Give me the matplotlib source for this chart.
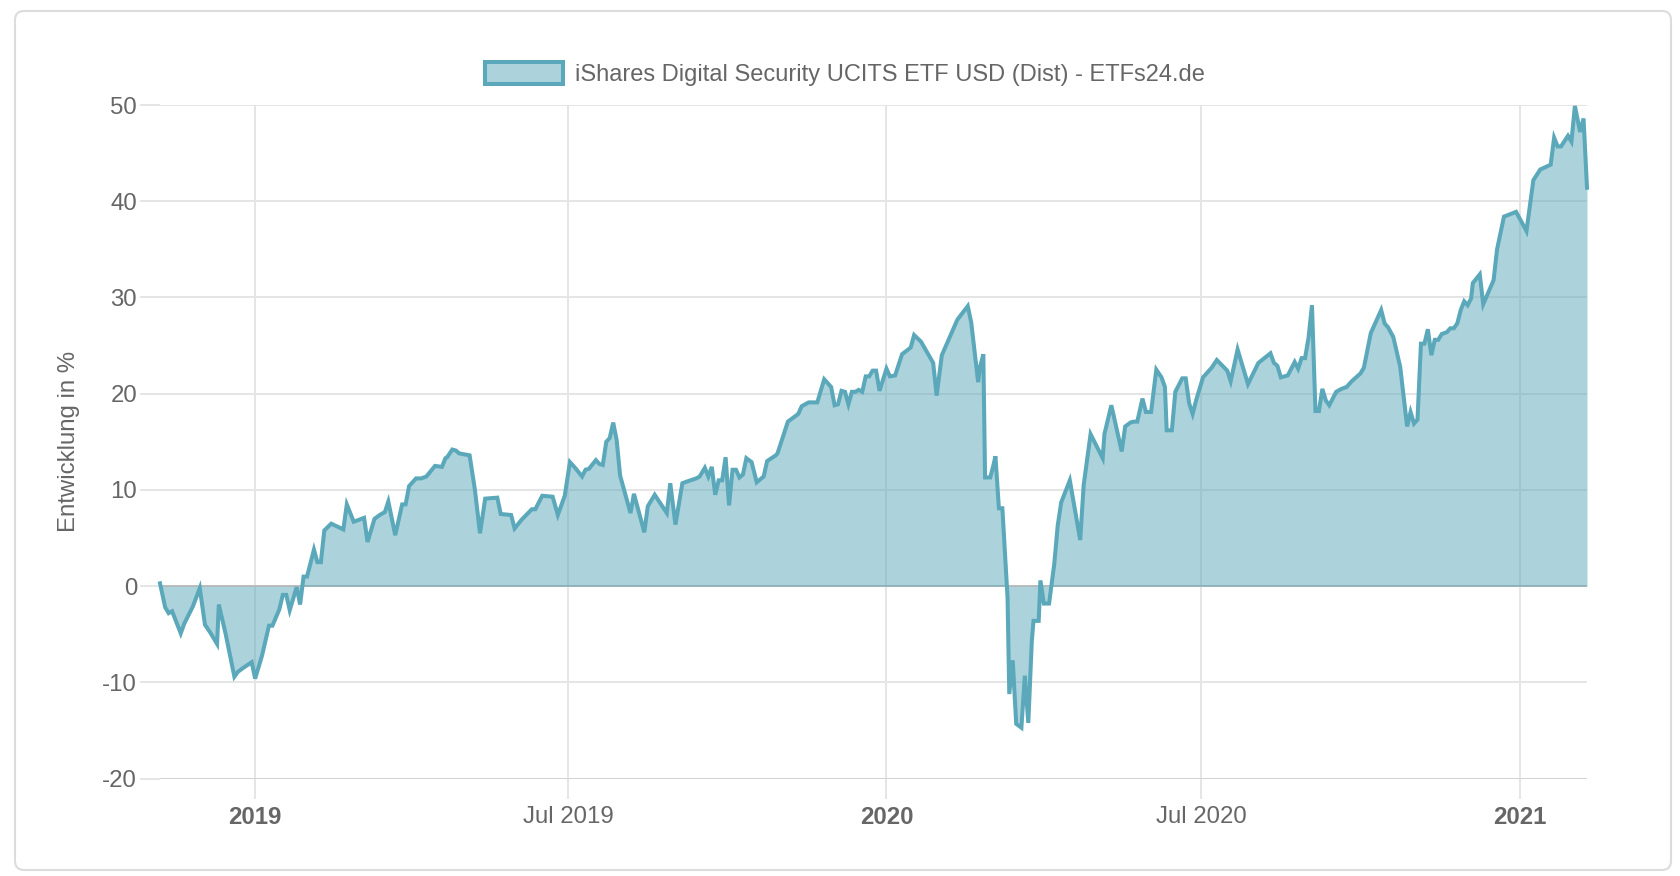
import matplotlib
matplotlib.use("Agg")
import matplotlib.pyplot as plt
from matplotlib.patches import FancyBboxPatch, Rectangle
from matplotlib.transforms import IdentityTransform
import pandas as pd

# performance of the ETF in %
dates = [
    "2018-11-07", "2018-11-10", "2018-11-12", "2018-11-14", "2018-11-19", "2018-11-21",
    "2018-11-26", "2018-11-30", "2018-12-03", "2018-12-06", "2018-12-10", "2018-12-11",
    "2018-12-15", "2018-12-20", "2018-12-22", "2018-12-25", "2018-12-30", "2019-01-01",
    "2019-01-05", "2019-01-09", "2019-01-11", "2019-01-15", "2019-01-17", "2019-01-19",
    "2019-01-21", "2019-01-25", "2019-01-27", "2019-01-29", "2019-01-31", "2019-02-04",
    "2019-02-06", "2019-02-08", "2019-02-10", "2019-02-14", "2019-02-21", "2019-02-23",
    "2019-02-27", "2019-03-05", "2019-03-07", "2019-03-11", "2019-03-14", "2019-03-17",
    "2019-03-19", "2019-03-23", "2019-03-27", "2019-03-29", "2019-03-31", "2019-04-04",
    "2019-04-07", "2019-04-10", "2019-04-15", "2019-04-19", "2019-04-21", "2019-04-22",
    "2019-04-25", "2019-04-27", "2019-04-29", "2019-05-02", "2019-05-05", "2019-05-08",
    "2019-05-11", "2019-05-14", "2019-05-21", "2019-05-23", "2019-05-29", "2019-05-31",
    "2019-06-04", "2019-06-10", "2019-06-12", "2019-06-16", "2019-06-22", "2019-06-25",
    "2019-06-29", "2019-07-02", "2019-07-05", "2019-07-09", "2019-07-11", "2019-07-13",
    "2019-07-17", "2019-07-19", "2019-07-21", "2019-07-23", "2019-07-25", "2019-07-27",
    "2019-07-29", "2019-07-31", "2019-08-06", "2019-08-08", "2019-08-14", "2019-08-16",
    "2019-08-20", "2019-08-27", "2019-08-29", "2019-09-01", "2019-09-05", "2019-09-08",
    "2019-09-13", "2019-09-15", "2019-09-18", "2019-09-20", "2019-09-22", "2019-09-24",
    "2019-09-26", "2019-09-28", "2019-09-30", "2019-10-02", "2019-10-04", "2019-10-06",
    "2019-10-08", "2019-10-10", "2019-10-12", "2019-10-15", "2019-10-18", "2019-10-22",
    "2019-10-24", "2019-10-29", "2019-10-30", "2019-11-05", "2019-11-11", "2019-11-13",
    "2019-11-17", "2019-11-22", "2019-11-26", "2019-11-30", "2019-12-02", "2019-12-04",
    "2019-12-06", "2019-12-08", "2019-12-10", "2019-12-12", "2019-12-14", "2019-12-16",
    "2019-12-18", "2019-12-20", "2019-12-22", "2019-12-24", "2019-12-26", "2019-12-28",
    "2020-01-01", "2020-01-03", "2020-01-06", "2020-01-10", "2020-01-15", "2020-01-17",
    "2020-01-21", "2020-01-28", "2020-01-30", "2020-02-02", "2020-02-11", "2020-02-17",
    "2020-02-19", "2020-02-23", "2020-02-24", "2020-02-26", "2020-02-27", "2020-03-01",
    "2020-03-03", "2020-03-04", "2020-03-06", "2020-03-08", "2020-03-11", "2020-03-12",
    "2020-03-14", "2020-03-16", "2020-03-19", "2020-03-21", "2020-03-23", "2020-03-25",
    "2020-03-26", "2020-03-29", "2020-03-30", "2020-04-01", "2020-04-04", "2020-04-07",
    "2020-04-09", "2020-04-11", "2020-04-16", "2020-04-22", "2020-04-24", "2020-04-28",
    "2020-05-05", "2020-05-06", "2020-05-10", "2020-05-16", "2020-05-18", "2020-05-21",
    "2020-05-23", "2020-05-25", "2020-05-28", "2020-05-30", "2020-06-02", "2020-06-03",
    "2020-06-05", "2020-06-08", "2020-06-10", "2020-06-11", "2020-06-14", "2020-06-16",
    "2020-06-20", "2020-06-22", "2020-06-24", "2020-06-26", "2020-06-28", "2020-07-02",
    "2020-07-07", "2020-07-10", "2020-07-16", "2020-07-18", "2020-07-22", "2020-07-28",
    "2020-08-03", "2020-08-10", "2020-08-12", "2020-08-14", "2020-08-16", "2020-08-20",
    "2020-08-24", "2020-08-26", "2020-08-28", "2020-08-30", "2020-09-01", "2020-09-03",
    "2020-09-05", "2020-09-07", "2020-09-09", "2020-09-11", "2020-09-13", "2020-09-17",
    "2020-09-20", "2020-09-23", "2020-09-26", "2020-10-01", "2020-10-03", "2020-10-07",
    "2020-10-13", "2020-10-15", "2020-10-17", "2020-10-20", "2020-10-24", "2020-10-28",
    "2020-10-30", "2020-11-01", "2020-11-03", "2020-11-05", "2020-11-07", "2020-11-09",
    "2020-11-11", "2020-11-13", "2020-11-15", "2020-11-17", "2020-11-20", "2020-11-22",
    "2020-11-24", "2020-11-26", "2020-11-28", "2020-11-30", "2020-12-02", "2020-12-04",
    "2020-12-05", "2020-12-09", "2020-12-11", "2020-12-17", "2020-12-19", "2020-12-23",
    "2020-12-30", "2021-01-05", "2021-01-09", "2021-01-13", "2021-01-19", "2021-01-21",
    "2021-01-23", "2021-01-25", "2021-01-29", "2021-01-31", "2021-02-02", "2021-02-05",
    "2021-02-07", "2021-02-09",
]
values = [
    0.3, -2.2, -2.8, -2.6, -4.9, -3.9,
    -2.1, -0.2, -4.0, -4.8, -6.0, -1.9,
    -5.0, -9.4, -8.9, -8.5, -7.9, -9.6,
    -7.2, -4.1, -4.1, -2.4, -0.9, -0.9,
    -2.5, -0.1, -1.9, 1.0, 1.0, 3.8,
    2.5, 2.5, 5.8, 6.5, 5.9, 8.5,
    6.7, 7.1, 4.6, 7.0, 7.4, 7.7,
    8.8, 5.3, 8.5, 8.5, 10.4, 11.2,
    11.2, 11.4, 12.5, 12.4, 13.3, 13.4,
    14.2, 14.1, 13.8, 13.7, 13.6, 10.1,
    5.5, 9.1, 9.2, 7.5, 7.4, 6.0,
    6.9, 8.0, 8.0, 9.4, 9.3, 7.4,
    9.4, 12.9, 12.3, 11.4, 12.1, 12.2,
    13.1, 12.7, 12.6, 15.0, 15.4, 17.0,
    15.2, 11.5, 7.6, 9.6, 5.6, 8.3,
    9.5, 7.6, 10.7, 6.4, 10.7, 10.9,
    11.2, 11.4, 12.3, 11.4, 12.4, 9.5,
    11.0, 11.0, 13.4, 8.4, 12.1, 12.1,
    11.3, 11.6, 13.3, 12.9, 10.8, 11.4,
    13.0, 13.6, 13.8, 17.1, 17.9, 18.7,
    19.1, 19.1, 21.5, 20.7, 18.8, 18.9,
    20.3, 20.2, 18.9, 20.2, 20.2, 20.4,
    20.2, 21.8, 21.8, 22.4, 22.4, 20.3,
    22.6, 21.8, 21.9, 24.1, 24.8, 26.1,
    25.4, 23.2, 19.8, 24.0, 27.7, 29.1,
    27.4, 21.2, 22.7, 24.1, 11.3, 11.3,
    12.7, 13.5, 8.1, 8.1, -1.2, -11.2,
    -7.7, -14.3, -14.7, -9.3, -14.2, -5.8,
    -3.6, -3.6, 0.6, -1.8, -1.8, 2.3,
    6.3, 8.7, 11.0, 4.8, 10.5, 15.8,
    13.3, 15.8, 18.8, 14.0, 16.6, 17.0,
    17.1, 17.1, 19.5, 18.1, 18.1, 19.6,
    22.5, 21.7, 20.7, 16.2, 16.2, 20.2,
    21.6, 21.6, 19.0, 17.9, 19.3, 21.7,
    22.7, 23.5, 22.4, 21.3, 24.6, 21.0,
    23.2, 24.2, 23.2, 22.9, 21.7, 21.9,
    23.3, 22.6, 23.7, 23.7, 25.8, 29.2,
    18.2, 18.2, 20.5, 19.3, 18.8, 20.2,
    20.5, 20.7, 21.3, 22.1, 22.7, 26.3,
    28.7, 27.3, 26.9, 25.9, 22.8, 16.6,
    18.1, 16.9, 17.3, 25.2, 25.2, 26.7,
    24.0, 25.6, 25.6, 26.2, 26.4, 26.8,
    26.8, 27.3, 28.7, 29.6, 29.2, 29.9,
    31.5, 32.4, 29.3, 31.8, 35.0, 38.4,
    38.9, 36.9, 42.2, 43.3, 43.8, 46.6,
    45.7, 45.7, 46.8, 46.2, 49.9, 47.2,
    48.6, 41.4,
]

label = "iShares Digital Security UCITS ETF USD (Dist) - ETFs24.de"
y_title = "Entwicklung in %"
y_ticks = [-20, -10, 0, 10, 20, 30, 40, 50]
x_ticks = ["2019-01-01", "2019-07-01", "2020-01-01", "2020-07-01", "2021-01-01"]
x_tick_labels = ["2019", "Jul 2019", "2020", "Jul 2020", "2021"]

line_color = "#5aa8ba"
grid_color = "#e5e5e5"
text_color = "#666666"

plt.rcParams["font.family"] = ["Liberation Sans", "DejaVu Sans"]
plt.rcParams["axes.unicode_minus"] = False

W, H = 1680, 876
fig = plt.figure(figsize=(W / 100, H / 100), dpi=100)
fig.patch.set_facecolor("white")

# card frame around the chart
card = FancyBboxPatch((15, H - 870), 1656, 859, boxstyle="round,pad=0,rounding_size=9",
                      transform=IdentityTransform(), facecolor="white",
                      edgecolor="#dcdcdc", linewidth=1.5, zorder=0)
fig.add_artist(card)

left, right, top, bottom = 160, 1587, 105, 778.7
ax = fig.add_axes([left / W, (H - bottom) / H, (right - left) / W, (bottom - top) / H])
ax.set_facecolor("none")

x = pd.to_datetime(dates)
ax.fill_between(x, values, 0, color=line_color, alpha=0.5, linewidth=0, zorder=2)
ax.plot(x, values, color=line_color, linewidth=2.9, solid_joinstyle="miter",
        clip_on=False, zorder=3)

ax.set_xlim(x[0], x[-1])
ax.set_ylim(-20, 50)

ax.set_yticks(y_ticks)
ax.set_yticklabels([str(v) for v in y_ticks])
ax.set_xticks(pd.to_datetime(x_ticks))
ax.set_xticklabels(x_tick_labels)
for t, txt in zip(ax.get_xticklabels(), x_tick_labels):
    if not txt.startswith("Jul"):
        t.set_fontweight("bold")

ax.set_axisbelow(True)
ax.grid(True, color=grid_color, linewidth=1.4)
for s in ax.spines.values():
    s.set_visible(False)
ax.axhline(-20, color="#d2d2d2", linewidth=1.4, zorder=1)
ax.axhline(0, color="#bdbdbd", linewidth=1.4, zorder=1)

ax.tick_params(axis="both", length=14.4, width=1.4, color=grid_color,
               labelcolor=text_color, labelsize=17.3)
ax.tick_params(axis="y", pad=2)
ax.tick_params(axis="x", pad=5)
for tick, v in zip(ax.yaxis.get_major_ticks(), y_ticks):
    if v == 0:
        tick.tick1line.set_color("#bdbdbd")

fig.text(68.6 / W, 1 - (top + bottom) / 2 / H, y_title, rotation=90,
         ha="center", va="center", color=text_color, fontsize=17.3)

# legend drawn as in the original: box + label, centered on the card
fig.add_artist(Rectangle((485 / W, (H - 84) / H), 78 / W, 22 / H,
                         facecolor="#acd3dc", edgecolor=line_color, linewidth=2.9))
fig.text(575 / W, 1 - 73 / H, label, ha="left", va="center_baseline",
         color=text_color, fontsize=17.05)

fig.savefig("out.png", dpi=100, facecolor="white")
